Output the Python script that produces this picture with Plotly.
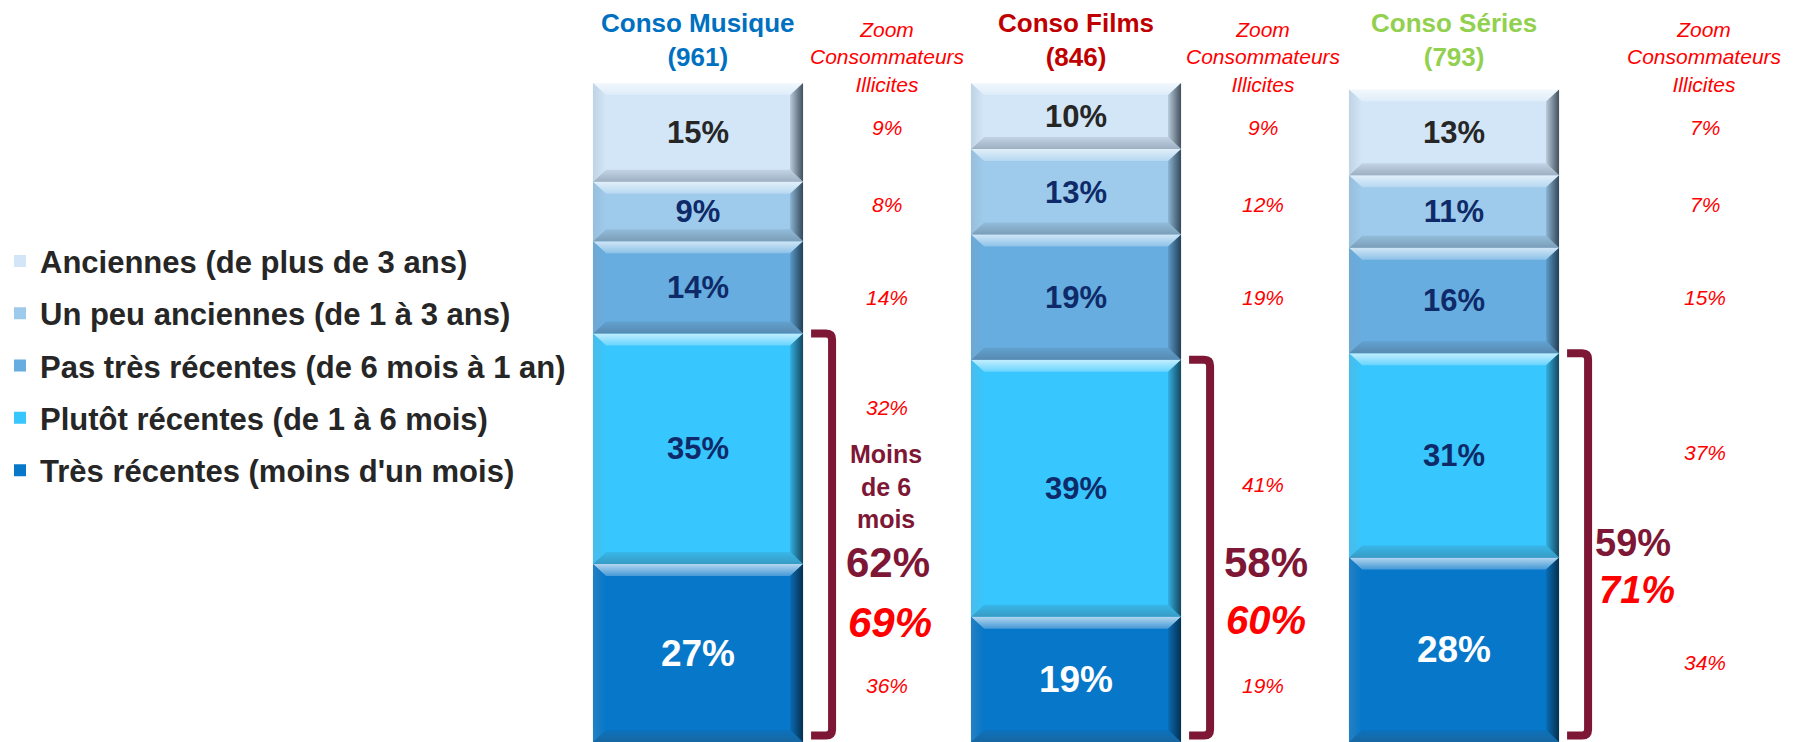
import plotly.graph_objects as go

# Categories (columns) and their headers
categories = ["Conso Musique", "Conso Films", "Conso Séries"]
sample_sizes = [961, 846, 793]
title_colors = ["#0070C0", "#C00000", "#92D050"]

# Series, from the bottom of the stack to the top
series_names = [
    "Très récentes (moins d'un mois)",
    "Plutôt récentes (de 1 à 6 mois)",
    "Pas très récentes (de 6 mois à 1 an)",
    "Un peu anciennes (de 1 à 3 ans)",
    "Anciennes (de plus de 3 ans)",
]
tres_recentes = [27, 19, 28]
plutot_recentes = [35, 39, 31]
pas_tres_recentes = [14, 19, 16]
un_peu_anciennes = [9, 13, 11]
anciennes = [15, 10, 13]
series_values = [tres_recentes, plutot_recentes, pas_tres_recentes,
                 un_peu_anciennes, anciennes]

# "Zoom Consommateurs Illicites" values, same bottom-to-top order
illicit_tres_recentes = [36, 19, 34]
illicit_plutot_recentes = [32, 41, 37]
illicit_pas_tres_recentes = [14, 19, 15]
illicit_un_peu_anciennes = [8, 12, 7]
illicit_anciennes = [9, 9, 7]
illicit_values = [illicit_tres_recentes, illicit_plutot_recentes,
                  illicit_pas_tres_recentes, illicit_un_peu_anciennes,
                  illicit_anciennes]

# Share of "less than 6 months" among illicit consumers
illicit_moins_6_mois = [69, 60, 71]

# Styling
seg_colors = ["#0677C9", "#37C6FD", "#67ADE0", "#9ECBEC", "#D3E6F7"]
text_colors = ["#FFFFFF", "#0E2A68", "#0E2A68", "#0E2A68", "#262626"]
text_sizes = [37, 31, 31, 31, 31]
MAROON = "#7E1736"
RED = "#FF0000"
FONT = "Liberation Sans, Arial, sans-serif"

BAR_W = 0.556
PX_X = 378.0   # pixels per x unit
PX_Y = 6.59    # pixels per percentage point


def mix(hex_color, other, t):
    h = hex_color.lstrip("#")
    o = other.lstrip("#")
    a = [int(h[i:i + 2], 16) for i in (0, 2, 4)]
    b = [int(o[i:i + 2], 16) for i in (0, 2, 4)]
    c = [round(a[k] * (1 - t) + b[k] * t) for k in range(3)]
    return "#%02X%02X%02X" % tuple(c)


fig = go.Figure()
xs = list(range(len(categories)))
n_series = len(series_names)

for j, (name, vals) in enumerate(zip(series_names, series_values)):
    fig.add_trace(go.Bar(
        x=xs, y=vals, name="<b>%s</b>" % name, width=BAR_W,
        marker=dict(color=seg_colors[j], line=dict(width=0)),
        text=["<b>%d%%</b>" % v for v in vals],
        textposition="inside", insidetextanchor="middle", textangle=0,
        constraintext="none",
        textfont=dict(family=FONT, size=text_sizes[j], color=text_colors[j]),
        legendgroup=str(j), legendrank=n_series - j, hoverinfo="skip",
    ))

# Bevel edges on every stacked segment
dx = 13 / PX_X
dy = 12 / PX_Y
for i in xs:
    base = 0
    for j, vals in enumerate(series_values):
        c = seg_colors[j]
        y0, y1 = base, base + vals[i]
        base = y1
        x0, x1 = i - BAR_W / 2, i + BAR_W / 2
        polys = [
            # top
            ([x0, x1, x1 - dx, x0 + dx, x0], [y1, y1, y1 - dy, y1 - dy, y1],
             dict(type="vertical", colorscale=[[0, mix(c, "#FFFFFF", 0.25)], [1, mix(c, "#FFFFFF", 0.7)]])),
            # bottom
            ([x0, x1, x1 - dx, x0 + dx, x0], [y0, y0, y0 + dy, y0 + dy, y0],
             dict(type="vertical", colorscale=[[0, mix(c, "#3A4A5A", 0.35)], [1, mix(c, "#3A4A5A", 0.12)]])),
            # left
            ([x0, x0, x0 + dx, x0 + dx, x0], [y0, y1, y1 - dy, y0 + dy, y0],
             dict(type="horizontal", colorscale=[[0, mix(c, "#8899AA", 0.25)], [1, c]])),
            # right
            ([x1, x1, x1 - dx, x1 - dx, x1], [y0, y1, y1 - dy, y0 + dy, y0],
             dict(type="horizontal", colorscale=[[0, mix(c, "#203040", 0.15)], [1, mix(c, "#05101A", 0.7)]])),
        ]
        for px, py, grad in polys:
            fig.add_trace(go.Scatter(
                x=px, y=py, mode="lines", fill="toself", fillgradient=grad,
                line=dict(width=0), showlegend=False, hoverinfo="skip",
            ))

# Brackets spanning the "less than 6 months" part of each bar
for i in xs:
    top = tres_recentes[i] + plutot_recentes[i]
    bot = 1.0
    xa = i + BAR_W / 2 + 8 / PX_X
    xv = i + BAR_W / 2 + 29 / PX_X
    rx, ry = 6 / PX_X, 6 / PX_Y
    path = (f"M {xa},{top} L {xv - rx},{top} Q {xv},{top} {xv},{top - ry} "
            f"L {xv},{bot + ry} Q {xv},{bot} {xv - rx},{bot} L {xa},{bot}")
    fig.add_shape(type="path", path=path, xref="x", yref="y",
                  line=dict(color=MAROON, width=8), layer="above")

annotations = []
# Column headers
for i in xs:
    annotations.append(dict(
        x=i, y=106.5, xref="x", yref="y", showarrow=False,
        text="<b>%s<br>(%d)</b>" % (categories[i], sample_sizes[i]),
        font=dict(family=FONT, size=26, color=title_colors[i]),
    ))

# Illicit-consumer column: header and values
zoom_x = [0.50, 1.495, 2.664]
zoom_rows_y = [8.6, 50.7, 67.4, 81.5, 93.2]
plutot_y = [50.7, 39.0, 44.0]
tres_y = [8.6, 8.6, 12.0]
for i in xs:
    annotations.append(dict(
        x=zoom_x[i], y=103.9, xref="x", yref="y", showarrow=False,
        text="<i>Zoom<br>Consommateurs<br>Illicites</i>",
        font=dict(family=FONT, size=21, color=RED),
    ))
    ys = [tres_y[i], plutot_y[i], zoom_rows_y[2], zoom_rows_y[3], zoom_rows_y[4]]
    for j in range(n_series):
        annotations.append(dict(
            x=zoom_x[i], y=ys[j], xref="x", yref="y", showarrow=False,
            text="<i>%d%%</i>" % illicit_values[j][i],
            font=dict(family=FONT, size=21, color=RED),
        ))

# Summary of the bracketed share
sum_x = [0.503, 1.503, 2.474]
sum_y = [27.3, 27.2, 30.2]
sum_size = [42, 42, 38]
ill_x = [0.508, 1.503, 2.484]
ill_y = [18.1, 18.5, 23.1]
ill_size = [42, 40, 38]
for i in xs:
    total = tres_recentes[i] + plutot_recentes[i]
    annotations.append(dict(
        x=sum_x[i], y=sum_y[i], xref="x", yref="y", showarrow=False,
        text="<b>%d%%</b>" % total,
        font=dict(family=FONT, size=sum_size[i], color=MAROON),
    ))
    annotations.append(dict(
        x=ill_x[i], y=ill_y[i], xref="x", yref="y", showarrow=False,
        text="<b><i>%d%%</i></b>" % illicit_moins_6_mois[i],
        font=dict(family=FONT, size=ill_size[i], color=RED),
    ))
annotations.append(dict(
    x=0.497, y=38.7, xref="x", yref="y", showarrow=False,
    text="<b>Moins<br>de 6<br>mois</b>",
    font=dict(family=FONT, size=25, color=MAROON),
))

fig.update_layout(
    width=1804, height=742,
    margin=dict(l=0, r=0, t=0, b=0),
    paper_bgcolor="white", plot_bgcolor="white",
    barmode="stack", bargap=0,
    xaxis=dict(range=[-698 / PX_X, (1804 - 698) / PX_X], visible=False, fixedrange=True),
    yaxis=dict(range=[0, 742 / PX_Y], visible=False, fixedrange=True),
    showlegend=True,
    legend=dict(
        x=0.0, y=0.507, xanchor="left", yanchor="middle",
        traceorder="grouped", tracegroupgap=9,
        font=dict(family=FONT, size=31, color="#262626"),
        bgcolor="rgba(0,0,0,0)", itemclick=False, itemdoubleclick=False,
    ),
    annotations=annotations,
)

fig.write_html("out.html")
